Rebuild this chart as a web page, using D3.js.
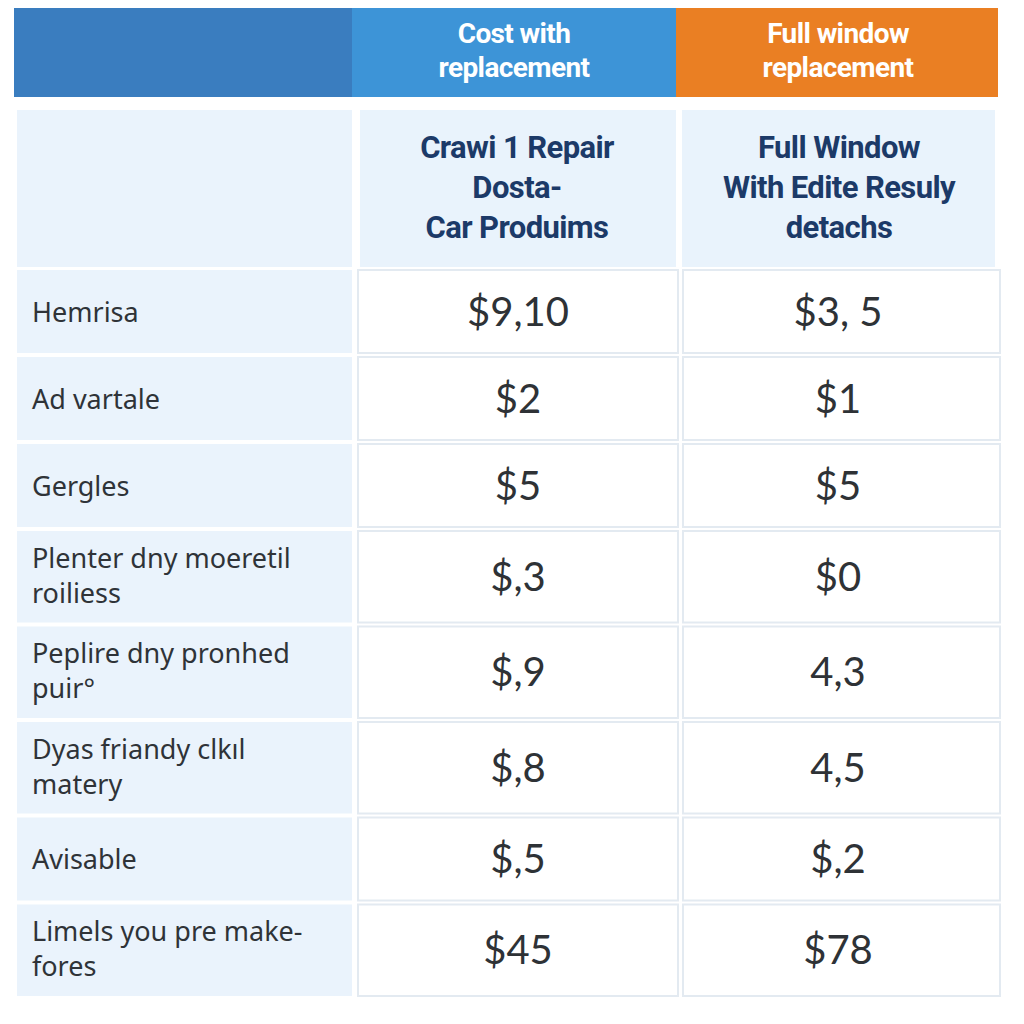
<!DOCTYPE html>
<html>
<head>
<meta charset="utf-8">
<script src="https://cdn.jsdelivr.net/npm/d3@7"></script>
<style>
  body { margin: 0; background: #fff; }
</style>
</head>
<body>
<script>
var W = 1024, H = 1024;

// table content
var headerTitles = [["Cost with", "replacement"], ["Full window", "replacement"]];
var subTitles = [["Crawi 1 Repair", "Dosta-", "Car Produims"], ["Full Window", "With Edite Resuly", "detachs"]];
var rowLabels = [
  ["Hemrisa"],
  ["Ad vartale"],
  ["Gergles"],
  ["Plenter dny moeretil", "roiliess"],
  ["Peplire dny pronhed", "puir\u00b0"],
  ["Dyas friandy clkıl", "matery"],
  ["Avisable"],
  ["Limels you pre make-", "fores"]
];
var repairCosts = ["$9,10", "$2", "$5", "$,3", "$,9", "$,8", "$,5", "$45"];
var windowCosts = ["$3, 5", "$1", "$5", "$0", "4,3", "4,5", "$,2", "$78"];

var svg = d3.select("body").append("svg")
  .attr("width", W)
  .attr("height", H);

// column layout
var colX = [17, 358, 683];
var colW = [335, 320, 317];

// top band
var band = svg.append("g");
band.append("rect").attr("x", 14).attr("y", 8).attr("width", 340).attr("height", 89).attr("fill", "#3a7dbf");
band.append("rect").attr("x", 352).attr("y", 8).attr("width", 325).attr("height", 89).attr("fill", "#3d94d7");
band.append("rect").attr("x", 676).attr("y", 8).attr("width", 322).attr("height", 89).attr("fill", "#ea7f23");

headerTitles.forEach(function(lines, i) {
  var cx = i == 0 ? 514 : 838;
  lines.forEach(function(l, j) {
    band.append("text")
      .attr("x", cx)
      .attr("y", 43 + j * 34)
      .attr("text-anchor", "middle")
      .style("font-family", "Roboto, 'Liberation Sans', sans-serif")
      .style("font-weight", "bold")
      .style("font-size", "28px")
      .style("letter-spacing", "-0.6px")
      .style("fill", "#fff")
      .text(l);
  });
});

// sub header row
var sub = svg.append("g");
sub.append("rect").attr("x", colX[0]).attr("y", 110).attr("width", colW[0]).attr("height", 157).attr("fill", "#eaf3fc");
sub.append("rect").attr("x", 360).attr("y", 110).attr("width", 316).attr("height", 157).attr("fill", "#e9f3fc");
sub.append("rect").attr("x", 682).attr("y", 110).attr("width", 313).attr("height", 157).attr("fill", "#e9f3fc");

subTitles.forEach(function(lines, i) {
  var cx = i == 0 ? 517 : 839;
  lines.forEach(function(l, j) {
    sub.append("text")
      .attr("x", cx)
      .attr("y", 158 + j * 40)
      .attr("text-anchor", "middle")
      .style("font-family", "Roboto, 'Liberation Sans', sans-serif")
      .style("font-weight", "bold")
      .style("font-size", "31px")
      .style("letter-spacing", "-0.6px")
      .style("fill", "#1c3a68")
      .text(l);
  });
});

// rows: height depends on number of label lines
var rowH = rowLabels.map(function(l) { return l.length > 1 ? 95.5 : 87; });
var rowY = [268].concat(Array.from(d3.cumsum(rowH)).map(function(v) { return 268 + v; }));

var data = rowLabels.map(function(l, i) {
  return { label: l, repair: repairCosts[i], full: windowCosts[i], y: rowY[i], h: rowH[i] };
});

var rows = svg.selectAll(".row")
  .data(data)
  .enter()
  .append("g")
  .attr("class", "row")
  .attr("transform", d => `translate(0, ${d.y})`);

rows.append("rect")
  .attr("x", colX[0]).attr("y", 2)
  .attr("width", colW[0]).attr("height", d => d.h - 4)
  .attr("fill", "#eaf3fc");

[1, 2].forEach(function(c) {
  rows.append("rect")
    .attr("x", colX[c]).attr("y", 2)
    .attr("width", colW[c]).attr("height", d => d.h - 4)
    .attr("fill", "#ffffff")
    .attr("stroke", "#e3eaf1")
    .attr("stroke-width", 2);
});

rows.append("text")
  .attr("y", d => d.label.length > 1 ? d.h / 2 - 9 : d.h / 2 + 10)
  .style("font-family", "'Noto Sans', 'Open Sans', sans-serif")
  .style("font-size", "27px")
  .style("fill", "#2f3338")
  .each(function(d) {
    var t = d3.select(this);
    d.label.forEach(function(l, j) {
      t.append("tspan").attr("x", 32).attr("dy", j == 0 ? 0 : 35).text(l);
    });
  });

rows.append("text")
  .attr("x", 518)
  .attr("y", d => d.h / 2 + 14)
  .attr("text-anchor", "middle")
  .style("font-family", "Lato, 'Open Sans', sans-serif")
  .style("font-size", "40px")
  .style("fill", "#2e3236")
  .text(d => d.repair);

rows.append("text")
  .attr("x", 838)
  .attr("y", d => d.h / 2 + 14)
  .attr("text-anchor", "middle")
  .style("font-family", "Lato, 'Open Sans', sans-serif")
  .style("font-size", "40px")
  .style("fill", "#2e3236")
  .text(d => d.full);
</script>
</body>
</html>
